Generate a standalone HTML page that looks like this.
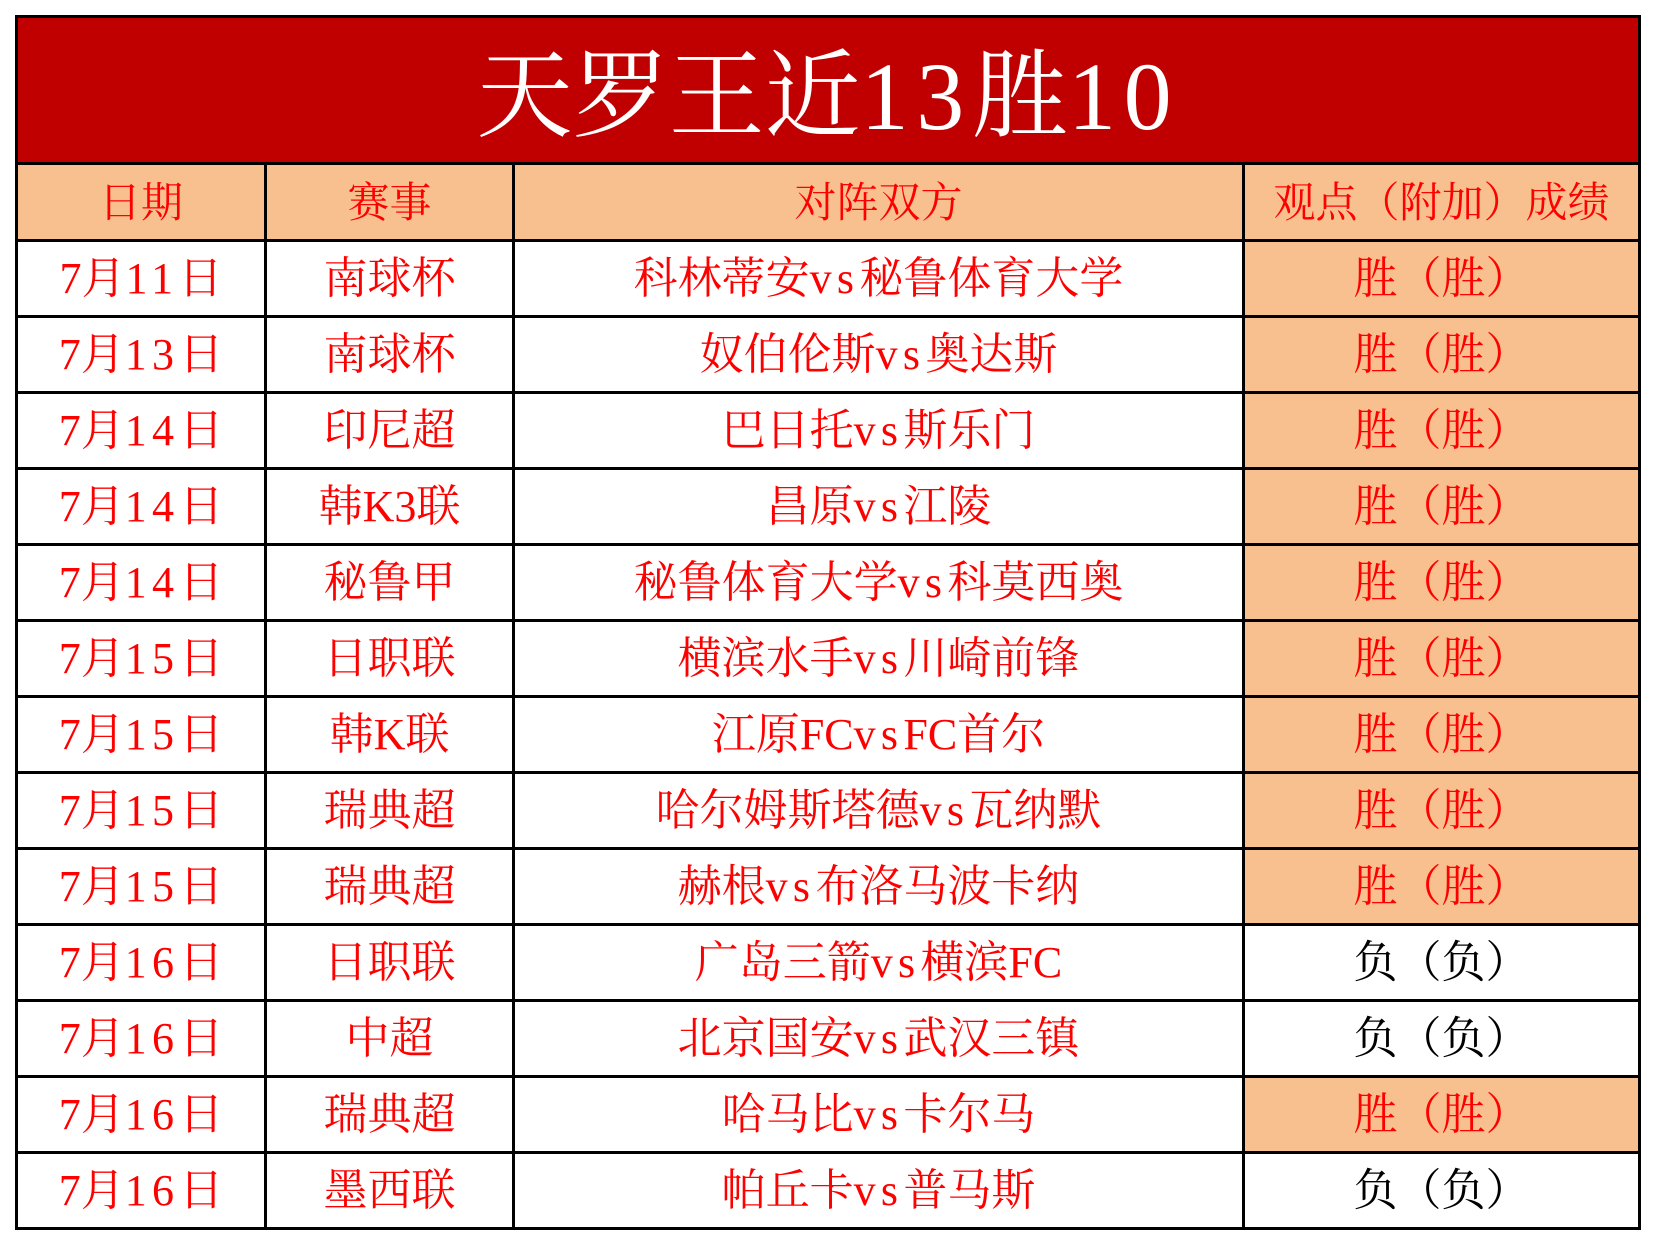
<!DOCTYPE html>
<html><head><meta charset="utf-8"><style>
html,body{margin:0;padding:0;background:#fff;width:1654px;height:1244px;overflow:hidden}
table{position:absolute;left:15px;top:15px;border-collapse:collapse;table-layout:fixed;font-family:"Liberation Serif","Noto Serif CJK SC",serif}
td{border:3px solid #000;text-align:center;vertical-align:middle;padding:0;color:#f00;font-size:44px;height:73px;line-height:1;white-space:nowrap}
td.t{background:#C00000;color:#fff;font-size:96px;height:130px;padding-top:14px}
tr.h td{background:#F8C08F;font-size:42px;padding-top:4px;height:70px}
td.w{background:#F8C08F}
td.l{color:#000}
.n{letter-spacing:0.12em}
td.t .n{letter-spacing:0.08em}
</style></head><body>
<table>
<colgroup><col style="width:249px"><col style="width:248px"><col style="width:730px"><col style="width:396px"></colgroup>
<tr><td class="t" colspan="4">天罗王近<span class="n">13</span>胜<span class="n">10</span></td></tr>
<tr class="h"><td>日期</td><td>赛事</td><td>对阵双方</td><td>观点（附加）成绩</td></tr>
<tr><td>7月<span class="n">11</span>日</td><td>南球杯</td><td>科林蒂安<span class="n">vs</span>秘鲁体育大学</td><td class="w">胜（胜）</td></tr>
<tr><td>7月<span class="n">13</span>日</td><td>南球杯</td><td>奴伯伦斯<span class="n">vs</span>奥达斯</td><td class="w">胜（胜）</td></tr>
<tr><td>7月<span class="n">14</span>日</td><td>印尼超</td><td>巴日托<span class="n">vs</span>斯乐门</td><td class="w">胜（胜）</td></tr>
<tr><td>7月<span class="n">14</span>日</td><td>韩K3联</td><td>昌原<span class="n">vs</span>江陵</td><td class="w">胜（胜）</td></tr>
<tr><td>7月<span class="n">14</span>日</td><td>秘鲁甲</td><td>秘鲁体育大学<span class="n">vs</span>科莫西奥</td><td class="w">胜（胜）</td></tr>
<tr><td>7月<span class="n">15</span>日</td><td>日职联</td><td>横滨水手<span class="n">vs</span>川崎前锋</td><td class="w">胜（胜）</td></tr>
<tr><td>7月<span class="n">15</span>日</td><td>韩K联</td><td>江原FC<span class="n">vs</span>FC首尔</td><td class="w">胜（胜）</td></tr>
<tr><td>7月<span class="n">15</span>日</td><td>瑞典超</td><td>哈尔姆斯塔德<span class="n">vs</span>瓦纳默</td><td class="w">胜（胜）</td></tr>
<tr><td>7月<span class="n">15</span>日</td><td>瑞典超</td><td>赫根<span class="n">vs</span>布洛马波卡纳</td><td class="w">胜（胜）</td></tr>
<tr><td>7月<span class="n">16</span>日</td><td>日职联</td><td>广岛三箭<span class="n">vs</span>横滨FC</td><td class="l">负（负）</td></tr>
<tr><td>7月<span class="n">16</span>日</td><td>中超</td><td>北京国安<span class="n">vs</span>武汉三镇</td><td class="l">负（负）</td></tr>
<tr><td>7月<span class="n">16</span>日</td><td>瑞典超</td><td>哈马比<span class="n">vs</span>卡尔马</td><td class="w">胜（胜）</td></tr>
<tr><td>7月<span class="n">16</span>日</td><td>墨西联</td><td>帕丘卡<span class="n">vs</span>普马斯</td><td class="l">负（负）</td></tr>
</table>
</body></html>
